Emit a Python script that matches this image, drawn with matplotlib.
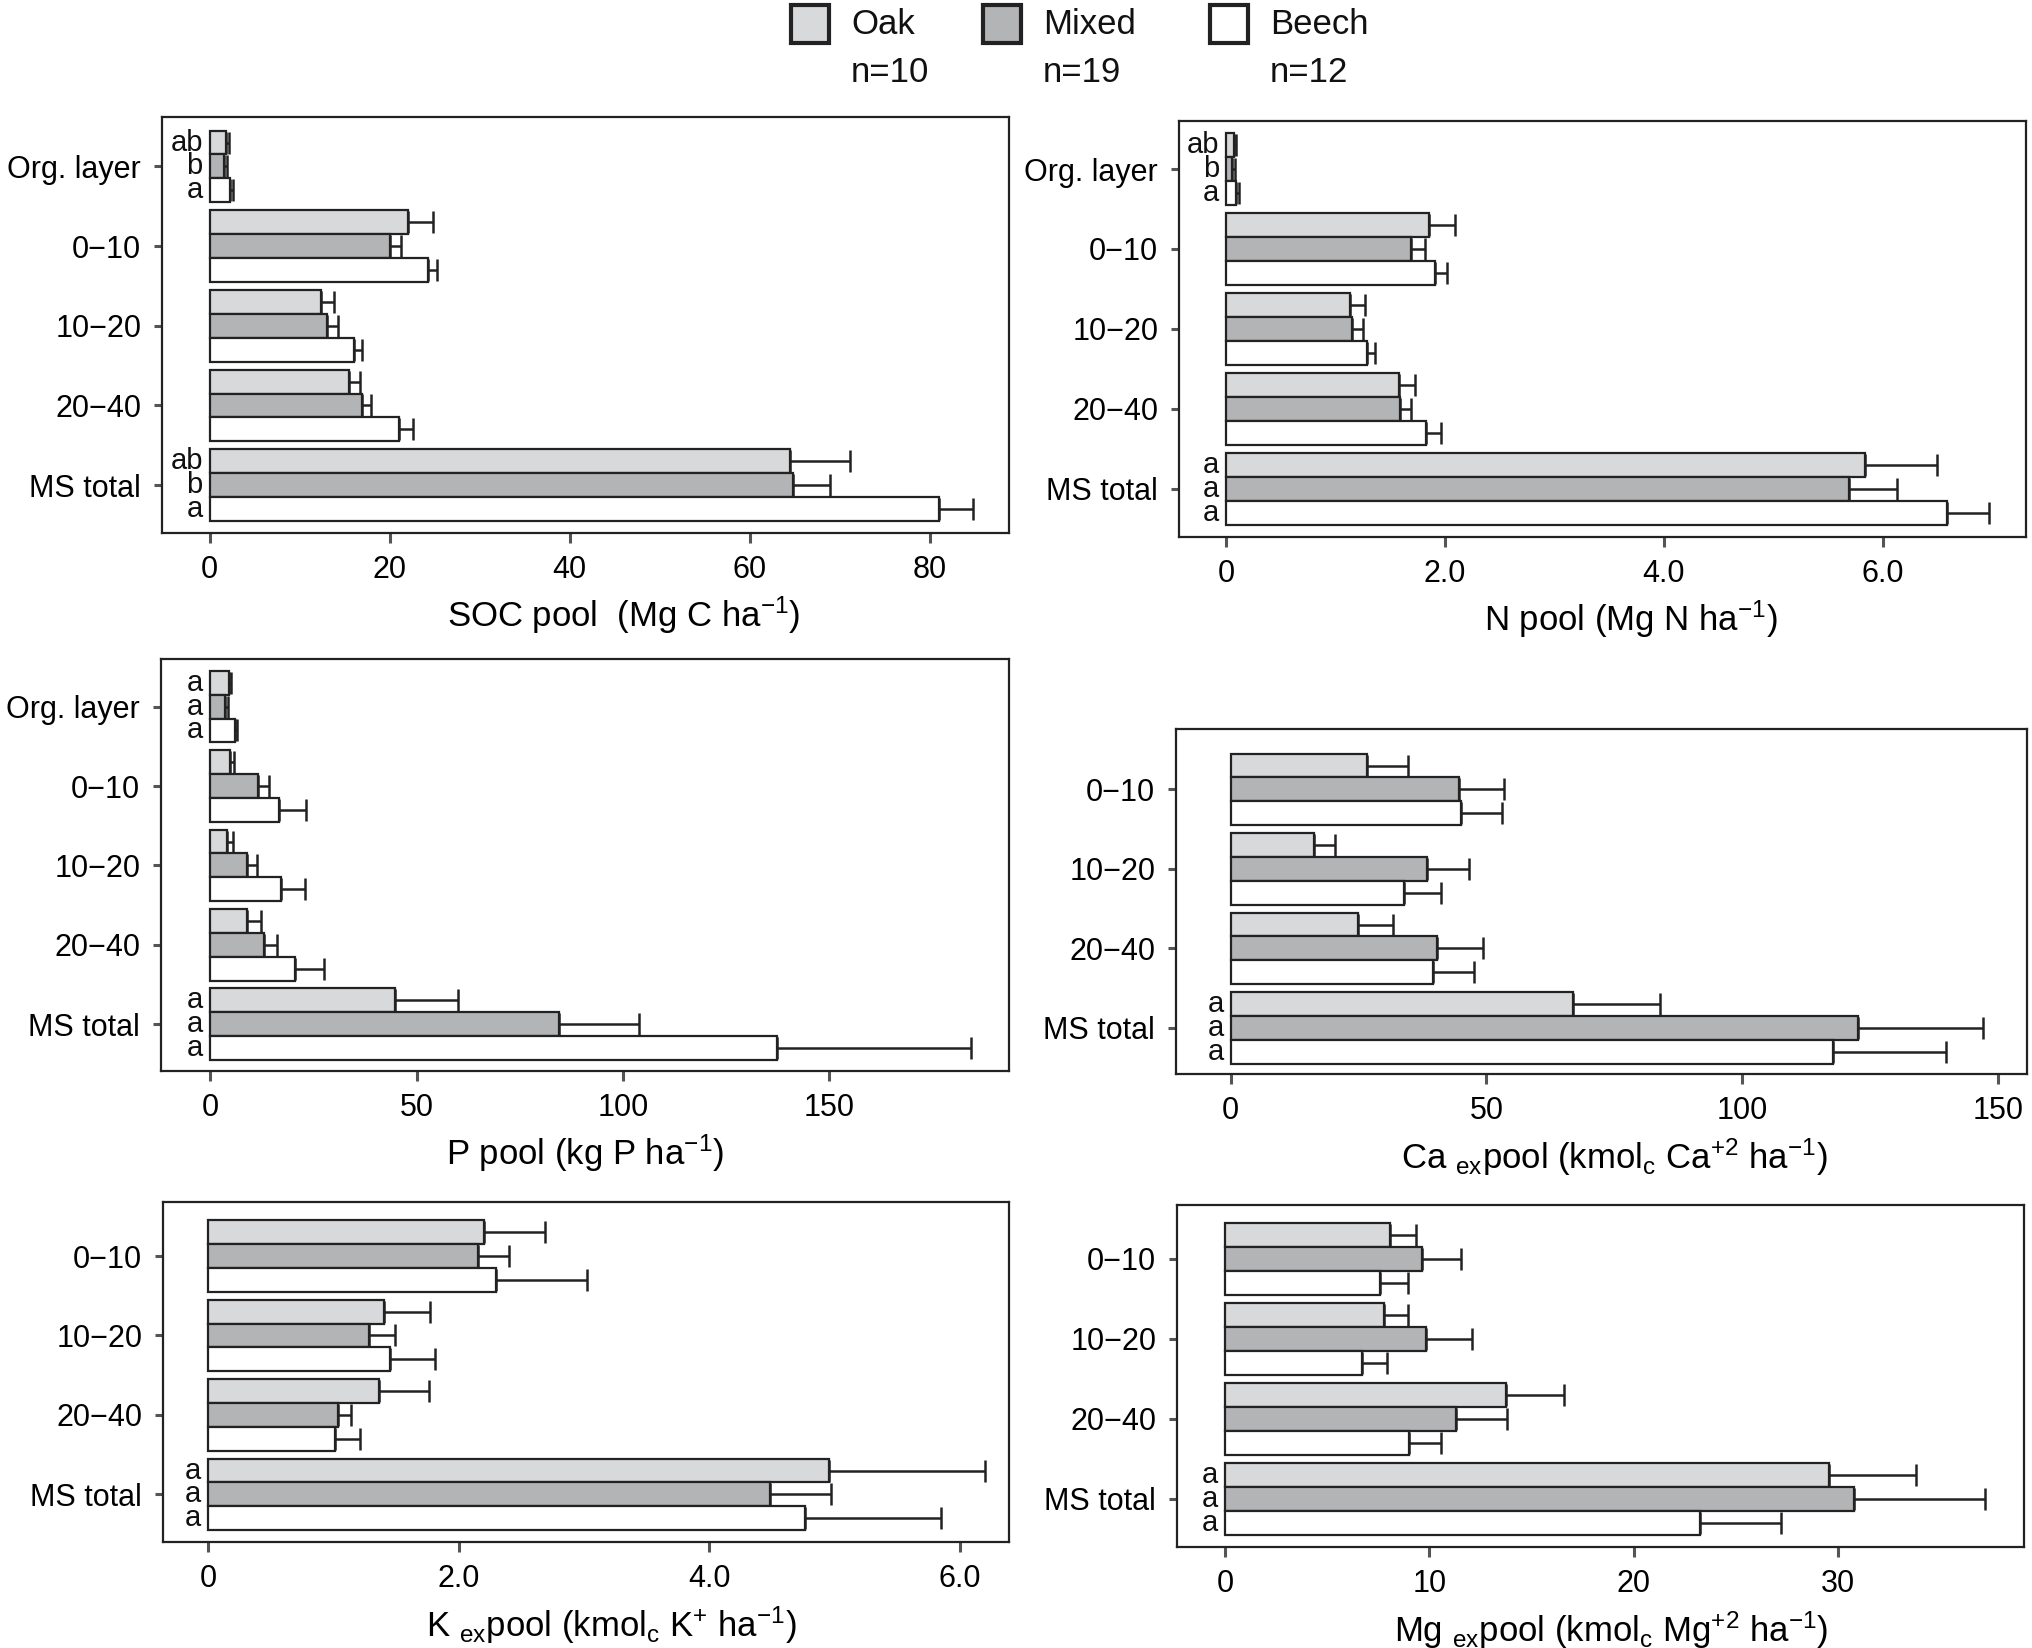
import matplotlib
matplotlib.use('Agg')
import matplotlib.pyplot as plt
from matplotlib.patches import Rectangle
import numpy as np

plt.rcParams['font.family'] = ['Liberation Sans', 'DejaVu Sans']
plt.rcParams['mathtext.default'] = 'regular'

# depth classes, top to bottom
depths5 = ['Org. layer', '0\u221210', '10\u221220', '20\u221240', 'MS total']
depths4 = ['0\u221210', '10\u221220', '20\u221240', 'MS total']

stands = ['Oak', 'Mixed', 'Beech']
n_plots = [10, 19, 12]

# SOC pool (Mg C/ha): mean and standard error
soc_oak = [1.8, 22.0, 12.4, 15.5, 64.5]
soc_oak_se = [0.3, 2.8, 1.4, 1.2, 6.6]
soc_mixed = [1.6, 20.0, 13.0, 16.9, 64.8]
soc_mixed_se = [0.3, 1.3, 1.2, 1.0, 4.1]
soc_beech = [2.3, 24.3, 16.0, 21.0, 81.0]
soc_beech_se = [0.3, 0.9, 0.9, 1.6, 3.8]

# N pool (Mg N/ha)
n_oak = [0.07, 1.85, 1.13, 1.58, 5.84]
n_oak_se = [0.02, 0.24, 0.14, 0.15, 0.66]
n_mixed = [0.055, 1.69, 1.15, 1.59, 5.69]
n_mixed_se = [0.03, 0.13, 0.10, 0.10, 0.44]
n_beech = [0.09, 1.91, 1.29, 1.83, 6.59]
n_beech_se = [0.03, 0.11, 0.07, 0.13, 0.38]

# P pool (kg P/ha)
p_oak = [4.6, 4.8, 4.0, 9.0, 44.8]
p_oak_se = [0.5, 1.1, 1.6, 3.4, 15.3]
p_mixed = [3.6, 11.6, 9.0, 13.0, 84.4]
p_mixed_se = [0.7, 2.6, 2.3, 3.1, 19.6]
p_beech = [6.0, 16.8, 17.2, 20.6, 137.2]
p_beech_se = [0.6, 6.5, 5.7, 6.9, 47.2]

# exchangeable Ca (kmolc/ha)
ca_oak = [26.6, 16.2, 24.9, 66.9]
ca_oak_se = [8.1, 4.1, 6.9, 17.1]
ca_mixed = [44.7, 38.3, 40.4, 122.6]
ca_mixed_se = [8.7, 8.3, 8.9, 24.5]
ca_beech = [45.1, 33.8, 39.5, 117.7]
ca_beech_se = [8.0, 7.4, 8.1, 22.2]

# exchangeable K (kmolc/ha)
k_oak = [2.20, 1.40, 1.36, 4.95]
k_oak_se = [0.49, 0.37, 0.40, 1.25]
k_mixed = [2.15, 1.28, 1.04, 4.48]
k_mixed_se = [0.25, 0.21, 0.10, 0.49]
k_beech = [2.30, 1.45, 1.01, 4.76]
k_beech_se = [0.72, 0.36, 0.20, 1.09]

# exchangeable Mg (kmolc/ha)
mg_oak = [8.05, 7.76, 13.74, 29.55]
mg_oak_se = [1.32, 1.19, 2.84, 4.28]
mg_mixed = [9.62, 9.85, 11.30, 30.77]
mg_mixed_se = [1.93, 2.22, 2.48, 6.44]
mg_beech = [7.56, 6.69, 8.98, 23.24]
mg_beech_se = [1.39, 1.26, 1.61, 3.99]

# significance letters (oak, mixed, beech) per depth class, None = no letters
soc_letters = [['ab', 'b', 'a'], None, None, None, ['ab', 'b', 'a']]
n_letters = [['ab', 'b', 'a'], None, None, None, ['a', 'a', 'a']]
p_letters = [['a', 'a', 'a'], None, None, None, ['a', 'a', 'a']]
ca_letters = [None, None, None, ['a', 'a', 'a']]
k_letters = [None, None, None, ['a', 'a', 'a']]
mg_letters = [None, None, None, ['a', 'a', 'a']]

colors = ['#d8d9db', '#b3b4b6', '#ffffff']
edge = '#222222'
tickcol = '#555555'
H = 0.3


def panel(ax, cats, means, ses, letters, xticks, xticklabels, xlim, ylim, xlabel, lab_x):
    y = np.arange(len(cats))
    for i in range(3):
        yy = y + (i - 1) * H
        ax.barh(yy, means[i], height=H, color=colors[i], edgecolor=edge,
                linewidth=1.6, zorder=2)
        ax.errorbar(means[i], yy, xerr=[np.zeros(len(cats)), ses[i]], fmt='none',
                    ecolor=edge, elinewidth=1.8, capsize=8, capthick=1.8, zorder=3)
    for j, lt in enumerate(letters):
        if lt is None:
            continue
        for i in range(3):
            ax.annotate(lt[i], xy=(0, y[j] + (i - 1) * H), xytext=(-5, 0),
                        textcoords='offset points', ha='right', va='center',
                        fontsize=21, color='#111111')
    ax.set_yticks(y)
    ax.set_yticklabels(cats)
    ax.set_xticks(xticks)
    ax.set_xticklabels(xticklabels)
    ax.set_xlim(*xlim)
    ax.set_ylim(*ylim)
    ax.tick_params(axis='y', length=6, width=2.2, color=tickcol, pad=9, labelsize=22)
    ax.tick_params(axis='x', length=7, width=2.2, color=tickcol, pad=9, labelsize=22)
    for s in ax.spines.values():
        s.set_linewidth(1.6)
        s.set_color('#222222')
    ax.set_xlabel(xlabel, fontsize=25)
    # label top sits ~62 px under the axes frame
    h_px = ax.get_position().height * fig.get_figheight() * fig.dpi
    ax.xaxis.set_label_coords(lab_x, -62.0 / h_px)


fig = plt.figure(figsize=(20.33, 16.48), dpi=100)
W, Hf = 2033.0, 1648.0


def add_ax(l, t, r, b):
    return fig.add_axes([l / W, 1 - b / Hf, (r - l) / W, (b - t) / Hf])


ax1 = add_ax(162, 117, 1009, 533)
ax2 = add_ax(1179, 121, 2026, 537)
ax3 = add_ax(161, 659, 1009, 1071)
ax4 = add_ax(1176, 729, 2027, 1074)
ax5 = add_ax(163, 1202, 1009, 1542)
ax6 = add_ax(1177, 1205, 2024, 1547)

panel(ax1, depths5, [soc_oak, soc_mixed, soc_beech], [soc_oak_se, soc_mixed_se, soc_beech_se],
      soc_letters, [0, 20, 40, 60, 80], ['0', '20', '40', '60', '80'], (-5.3, 88.8), (4.6, -0.62),
      'SOC pool  (Mg C ha$^{-1}$)', 0.545)
panel(ax2, depths5, [n_oak, n_mixed, n_beech], [n_oak_se, n_mixed_se, n_beech_se],
      n_letters, [0, 2, 4, 6], ['0', '2.0', '4.0', '6.0'], (-0.43, 7.31), (4.6, -0.6),
      'N pool (Mg N ha$^{-1}$)', 0.533)
panel(ax3, depths5, [p_oak, p_mixed, p_beech], [p_oak_se, p_mixed_se, p_beech_se],
      p_letters, [0, 50, 100, 150], ['0', '50', '100', '150'], (-11.9, 193.5), (4.59, -0.6),
      'P pool (kg P ha$^{-1}$)', 0.5)
panel(ax4, depths4, [ca_oak, ca_mixed, ca_beech], [ca_oak_se, ca_mixed_se, ca_beech_se],
      ca_letters, [0, 50, 100, 150], ['0', '50', '100', '150'], (-10.7, 155.7), (3.58, -0.76),
      'Ca $_{ex}$pool (kmol$_c$ Ca$^{+2}$ ha$^{-1}$)', 0.515)
panel(ax5, depths4, [k_oak, k_mixed, k_beech], [k_oak_se, k_mixed_se, k_beech_se],
      k_letters, [0, 2, 4, 6], ['0', '2.0', '4.0', '6.0'], (-0.36, 6.39), (3.6, -0.68),
      'K $_{ex}$pool (kmol$_c$ K$^{+}$ ha$^{-1}$)', 0.53)
panel(ax6, depths4, [mg_oak, mg_mixed, mg_beech], [mg_oak_se, mg_mixed_se, mg_beech_se],
      mg_letters, [0, 10, 20, 30], ['0', '10', '20', '30'], (-2.35, 39.1), (3.6, -0.67),
      'Mg $_{ex}$pool (kmol$_c$ Mg$^{+2}$ ha$^{-1}$)', 0.513)

# legend at top
sq_x = [791, 983, 1210]
for i in range(3):
    fig.add_artist(Rectangle((sq_x[i] / W, 1 - 43 / Hf), 38 / W, 38 / Hf,
                             transform=fig.transFigure, facecolor=colors[i],
                             edgecolor=edge, linewidth=3))
    fig.text((sq_x[i] + 60) / W, 1 - 25 / Hf, stands[i], fontsize=25,
             ha='left', va='center', color='#111111')
    fig.text((sq_x[i] + 60) / W, 1 - 72 / Hf, 'n=%d' % n_plots[i], fontsize=25,
             ha='left', va='center', color='#111111')

fig.savefig('out.png', dpi=100)
